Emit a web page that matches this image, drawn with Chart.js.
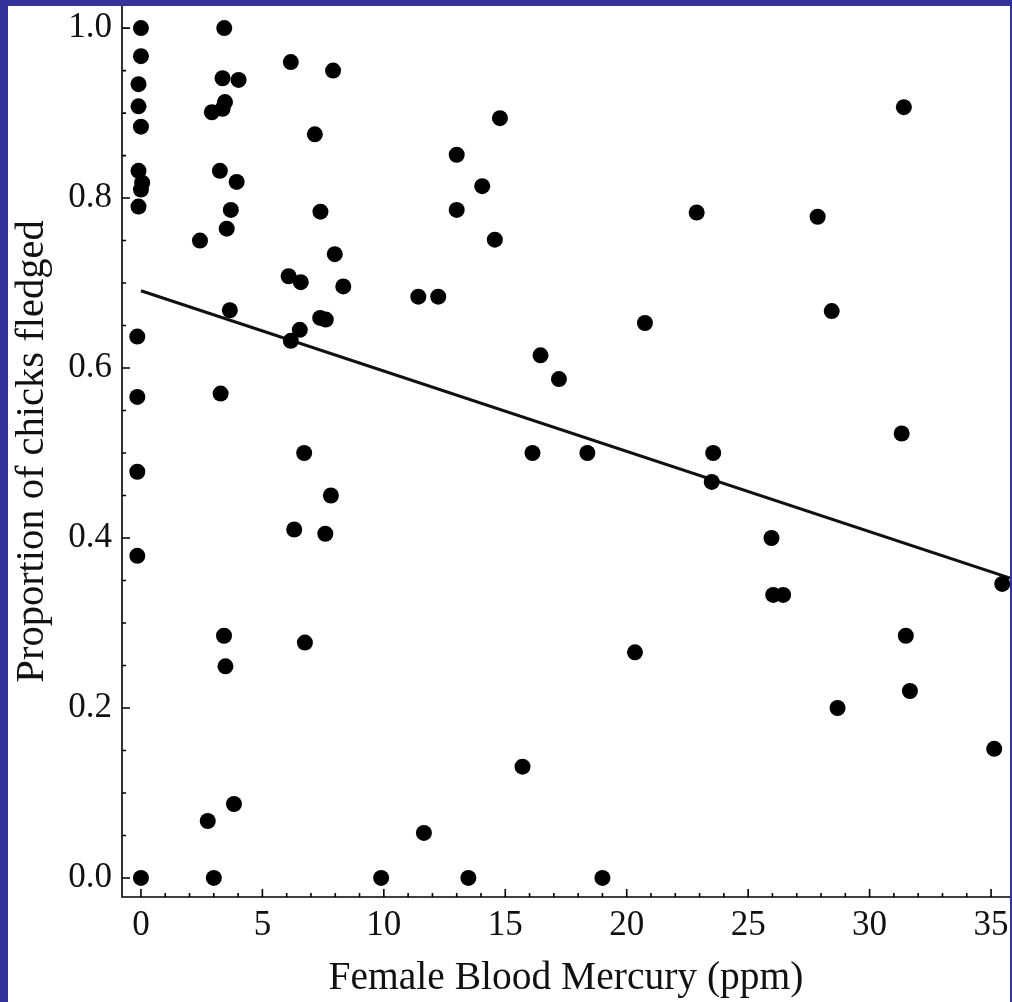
<!DOCTYPE html>
<html>
<head>
<meta charset="utf-8">
<script src="https://cdn.jsdelivr.net/npm/chart.js@4.4.1/dist/chart.umd.min.js"></script>
<style>
  body { margin: 0; background: #333399; width: 1012px; height: 1002px; overflow: hidden; }
  #panel { position: absolute; left: 8px; top: 6px; width: 1002px; height: 996px; background: #fff; }
</style>
</head>
<body>
<div id="panel"><canvas id="grafico" width="1002" height="996"></canvas></div>
<script>
// female blood mercury (ppm) and proportion of chicks fledged, one entry per nest
const mercury = [
  0, 0, -0.1, -0.1, 0, -0.1, 0.05, 0, -0.1, -0.15, -0.15, -0.15, -0.15, 0,
  3.43, 3.36, 4.02, 3.46, 3.36, 2.92, 3.25, 3.94, 3.70, 3.53, 2.43, 3.66, 3.28, 3.42, 3.48, 3.83, 2.75, 3.0,
  6.17, 7.91, 7.16, 7.39, 7.98, 6.08, 6.58, 8.33, 7.38, 7.61, 6.54, 6.17, 6.72, 7.82, 6.31, 7.59, 6.75,
  9.89, 11.42, 12.24, 11.65, 13.48, 13.0, 14.05, 13.0, 14.57, 14.78, 15.71, 16.45, 17.21, 16.12, 18.38,
  19.0, 20.34, 20.75, 22.88, 23.56, 23.5, 25.96, 26.03, 26.44, 27.86, 28.44, 28.68, 31.41, 31.32,
  31.49, 31.66, 35.13, 35.46
];
const fledged = [
  1.0, 0.967, 0.934, 0.908, 0.884, 0.832, 0.818, 0.81, 0.79, 0.637, 0.566, 0.478, 0.379, 0,
  1.0, 0.941, 0.939, 0.913, 0.905, 0.901, 0.832, 0.819, 0.786, 0.764, 0.75, 0.668, 0.57, 0.285, 0.249, 0.087, 0.067, 0,
  0.96, 0.95, 0.875, 0.784, 0.734, 0.708, 0.701, 0.696, 0.659, 0.657, 0.645, 0.632, 0.5, 0.45, 0.41, 0.405, 0.277,
  0, 0.684, 0.684, 0.053, 0, 0.851, 0.814, 0.786, 0.751, 0.894, 0.131, 0.615, 0.587, 0.5, 0.5,
  0, 0.2655, 0.653, 0.783, 0.5, 0.466, 0.4, 0.333, 0.333, 0.778, 0.667, 0.2, 0.907, 0.523,
  0.285, 0.22, 0.152, 0.346
];

// fitted regression line, start and end
const fitX = [0, 35.78];
const fitY = [0.691, 0.353];

const xTicks = [0, 5, 10, 15, 20, 25, 30, 35];
const yTicks = [0, 0.2, 0.4, 0.6, 0.8, 1.0];

const serif = 'Liberation Serif, Times New Roman, serif';

// axis lines with inward ticks (major + minor)
const axes = {
  id: 'axes',
  beforeDatasetsDraw(chart) {
    const { ctx, chartArea: a, scales: { x, y } } = chart;
    ctx.save();
    ctx.strokeStyle = '#000';
    ctx.lineWidth = 1.6;
    ctx.beginPath();
    ctx.moveTo(a.left, a.top);
    ctx.lineTo(a.left, a.bottom);
    ctx.lineTo(a.right, a.bottom);
    for (let v = 0; v <= 35; v++) {
      const px = x.getPixelForValue(v);
      ctx.moveTo(px, a.bottom);
      ctx.lineTo(px, a.bottom - (v % 5 === 0 ? 8 : 4));
    }
    for (let i = 0; i <= 20; i++) {
      const py = y.getPixelForValue(i * 0.05);
      ctx.moveTo(a.left, py);
      ctx.lineTo(a.left + (i % 4 === 0 ? 8 : 4), py);
    }
    ctx.stroke();
    ctx.restore();
  }
};

const points = mercury.map((m, i) => ({ x: m, y: fledged[i] }));
const fitLine = fitX.map((m, i) => ({ x: m, y: fitY[i] }));

new Chart(document.getElementById('grafico'), {
  type: 'scatter',
  data: {
    datasets: [{
      data: points,
      backgroundColor: '#000',
      borderWidth: 0,
      pointRadius: 8,
      clip: false
    }, {
      data: fitLine,
      showLine: true,
      borderColor: '#111',
      borderWidth: 3,
      pointRadius: 0
    }]
  },
  options: {
    responsive: false,
    animation: false,
    layout: { padding: 0, autoPadding: false },
    plugins: { legend: { display: false }, tooltip: { enabled: false } },
    scales: {
      x: {
        type: 'linear', min: -0.78, max: 35.78,
        grid: { display: false, drawTicks: false },
        border: { display: false },
        afterBuildTicks: s => { s.ticks = xTicks.map(v => ({ value: v })); },
        afterFit: s => { s.height = 105; s.paddingLeft = 0; s.paddingRight = 0; },
        ticks: {
          color: '#111', padding: 8, maxRotation: 0, autoSkip: false,
          font: { family: serif, size: 35 },
          callback: v => String(v)
        },
        title: {
          display: true, text: 'Female Blood Mercury (ppm)', color: '#111',
          font: { family: serif, size: 39.5 }, padding: 0
        }
      },
      y: {
        type: 'linear', min: -0.0224, max: 1.026,
        grid: { display: false, drawTicks: false },
        border: { display: false },
        afterBuildTicks: s => { s.ticks = yTicks.map(v => ({ value: v })); },
        afterFit: s => { s.width = 114; s.paddingTop = 0; s.paddingBottom = 0; },
        ticks: {
          color: '#111', padding: 10, autoSkip: false,
          font: { family: serif, size: 35 },
          callback: v => v.toFixed(1)
        },
        title: {
          display: true, text: 'Proportion of chicks fledged', color: '#111',
          font: { family: serif, size: 40.5 }, padding: 0
        }
      }
    }
  },
  plugins: [axes]
});
</script>
</body>
</html>
